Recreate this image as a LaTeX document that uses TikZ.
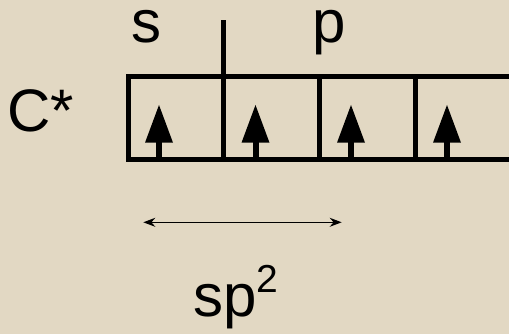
\documentclass[tikz,border=0pt]{standalone}
\usepackage{fontspec}
\setmainfont{Liberation Sans}
\usetikzlibrary{arrows.meta}
\definecolor{bgbeige}{RGB}{226,216,195}
\tikzset{
  cellbox/.style={draw=black, line width=5pt, minimum height=83.3pt, inner sep=0pt, outer sep=0pt},
  lbl/.style={inner sep=0pt, outer sep=0pt, anchor=base west, font=\fontsize{60}{72}\selectfont},
  spin/.pic={
    \fill[black] (-3,0) rectangle (3,-18);
    \fill[black] (-14,-17.3) -- (14,-17.3) -- (0,-55) -- cycle;
  },
  span/.style={{Stealth[length=12pt,width=9pt]}-{Stealth[length=12pt,width=9pt]}, line width=1.5pt}
}
\begin{document}
\begin{tikzpicture}[x=1pt,y=-1pt]
\fill[bgbeige] (0,0) rectangle (509,334);
\useasboundingbox (0,0) rectangle (509,334);
% cells (the last one runs past the right edge)
\node[cellbox, minimum width=95.5pt] (c1) at (175.75,118.35) {};
\node[cellbox, minimum width=95.5pt] (c2) at (271.25,118.35) {};
\node[cellbox, minimum width=96.5pt] (c3) at (367.25,118.35) {};
\node[cellbox, minimum width=97pt] (c4) at (464,118.35) {};
% spins
\pic at ([xshift=31pt]c1.south west) {spin};
\pic at ([xshift=32pt]c2.south west) {spin};
\pic at ([xshift=32pt]c3.south west) {spin};
\pic at ([xshift=31.5pt]c4.south west) {spin};
% tick
\coordinate (tk) at (223.5,20);
\draw[line width=5pt] (c2.north west) -- (tk);
% labels
\node[lbl] (s) at (131,43) {s};
\node[lbl] (p) at (312,43) {p};
\node[lbl] (cst) at (7,131.7) {C*};
\node[lbl] (sp2) at (193,316.7) {sp\raisebox{24pt}{\fontsize{39}{40}\selectfont 2}};
% span arrow
\coordinate (a1) at (143.3,222.3);
\coordinate (a2) at (341.7,222.3);
\draw[span] (a1) -- (a2);
\end{tikzpicture}
\end{document}
